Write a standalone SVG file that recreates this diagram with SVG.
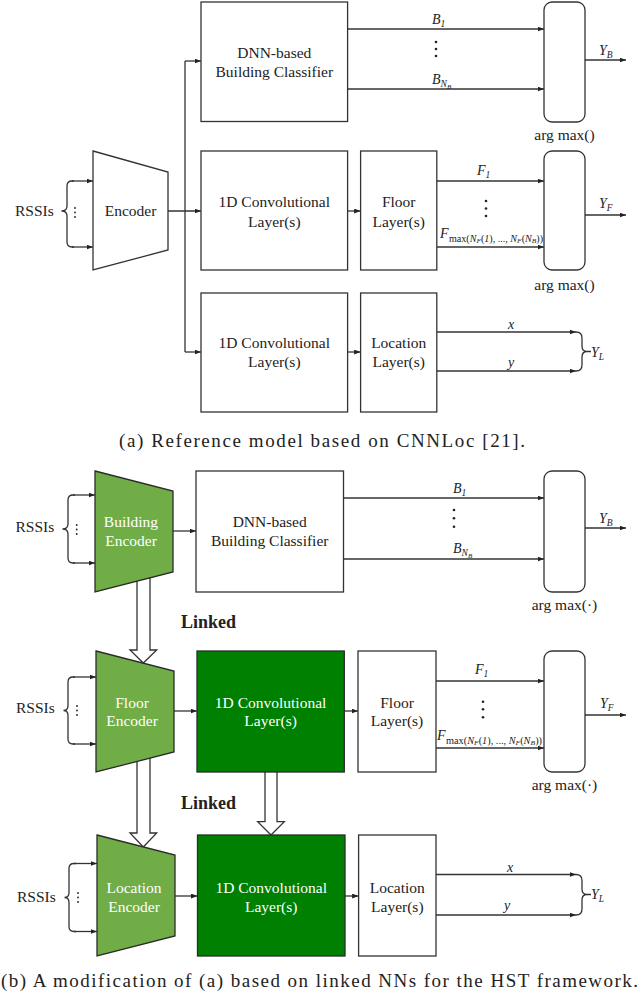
<svg xmlns="http://www.w3.org/2000/svg" width="640" height="995" viewBox="0 0 640 995">
<defs>
<style>
.box{fill:#fff;stroke:#333;stroke-width:1.3}
.lg{fill:#70AD47;stroke:#2b2b2b;stroke-width:1.3}
.dg{fill:#008000;stroke:#2b2b2b;stroke-width:1.3}
.ln{stroke:#333;stroke-width:1.3;fill:none}
.ar{stroke:#333;stroke-width:1.3;fill:none;marker-end:url(#ah)}
.hol{fill:#fff;stroke:#333;stroke-width:1.3}
.t{font-family:"Liberation Serif","Times New Roman",serif;font-size:15.5px;fill:#222;text-anchor:middle}
.w{fill:#fff}
.s{font-family:"Liberation Serif","Times New Roman",serif;font-size:15.5px;fill:#222}
.m{font-family:"Liberation Serif","Times New Roman",serif;font-style:italic;font-size:14px;fill:#222}
.sub{font-size:9.5px}
.ss{font-size:7px}
.up{font-style:normal}
.dot{fill:#222}
.bold{font-family:"Liberation Serif","Times New Roman",serif;font-weight:bold;font-size:18px;fill:#222}
.cap{font-family:"Liberation Serif","Times New Roman",serif;font-size:19px;fill:#222}
</style>
<marker id="ah" viewBox="0 0 8 6" refX="8" refY="3" markerWidth="6.5" markerHeight="5" orient="auto" markerUnits="userSpaceOnUse">
<path d="M0,0 L8,3 L0,6 z" fill="#222"/>
</marker>
</defs>

<g id="connectors">
<!-- (a) -->
<path class="ln" d="M74,181 L72,181 Q67,181 67,186 L67,206 Q67,211 61.5,211 Q67,211 67,216 L67,242 Q67,247 72,247 L74,247"/>
<path class="ar" d="M72,181 L93,181"/>
<path class="ar" d="M72,247 L93,247"/>
<path class="ar" d="M168,211 L201,211"/>
<path class="ln" d="M185,61 L185,352"/>
<path class="ar" d="M185,61 L201,61"/>
<path class="ar" d="M185,352 L201,352"/>
<path class="ar" d="M347.6,211 L360.6,211"/>
<path class="ar" d="M347.6,352 L360.6,352"/>
<path class="ar" d="M347.6,29 L544,29"/>
<path class="ar" d="M347.6,89 L544,89"/>
<path class="ar" d="M585,60 L626,60"/>
<path class="ar" d="M436.8,181 L544,181"/>
<path class="ar" d="M436.8,247 L544,247"/>
<path class="ar" d="M585,215 L626,215"/>
<path class="ar" d="M436.8,332 L576,332"/>
<path class="ar" d="M436.8,371 L576,371"/>
<path class="ln" d="M576,332 Q582,332 582,338 L582,346 Q582,351.5 587,351.5 L591,351.5 M587,351.5 Q582,351.5 582,357 L582,365 Q582,371 576,371"/>
<!-- (b) -->
<path class="ln" d="M75,495 L73,495 Q68,495 68,500 L68,524 Q68,529 62.5,529 Q68,529 68,534 L68,558 Q68,563 73,563 L75,563"/>
<path class="ar" d="M73,495 L95,495"/>
<path class="ar" d="M73,563 L95,563"/>
<path class="ln" d="M75,677 L73,677 Q68,677 68,682 L68,705.5 Q68,710.5 63.5,710.5 Q68,710.5 68,715.5 L68,739 Q68,744 73,744 L75,744"/>
<path class="ar" d="M73,677 L96,677"/>
<path class="ar" d="M73,744 L96,744"/>
<path class="ln" d="M76,863.5 L74,863.5 Q69,863.5 69,868.5 L69,892.5 Q69,897.5 64.5,897.5 Q69,897.5 69,902.5 L69,926.5 Q69,931.5 74,931.5 L76,931.5"/>
<path class="ar" d="M74,863.5 L97,863.5"/>
<path class="ar" d="M74,931.5 L97,931.5"/>
<path class="ar" d="M173,531 L196,531"/>
<path class="ar" d="M174,711 L197,711"/>
<path class="ar" d="M344.3,711 L358,711"/>
<path class="ar" d="M174,896 L197.5,896"/>
<path class="ar" d="M345,896 L358.6,896"/>
<path class="ar" d="M343.5,498 L544,498"/>
<path class="ar" d="M343.5,559 L544,559"/>
<path class="ar" d="M585,528 L626,528"/>
<path class="ar" d="M436,681 L544,681"/>
<path class="ar" d="M436,748 L544,748"/>
<path class="ar" d="M585,715 L626,715"/>
<path class="ar" d="M436,874.5 L576,874.5"/>
<path class="ar" d="M436,915 L576,915"/>
<path class="ln" d="M576,874.5 Q582,874.5 582,880.5 L582,889 Q582,894.5 587,894.5 L591,894.5 M587,894.5 Q582,894.5 582,900 L582,909 Q582,915 576,915"/>
<!-- hollow "linked" arrows -->
<polygon class="hol" points="137,575 137,650 130,650 143.3,663 156.7,650 150,650 150,575"/>
<polygon class="hol" points="137,755 137,833 130,833 143.3,847 156.7,833 150,833 150,755"/>
<polygon class="hol" points="265,771 265,821.7 257.7,821.7 271,835 284.3,821.7 277,821.7 277,771"/>
</g>

<!-- ===== (a) nodes ===== -->
<g id="a-rssi">
<text class="s" x="15" y="216">RSSIs</text>
<circle class="dot" cx="75" cy="208" r="0.9"/><circle class="dot" cx="75" cy="212.5" r="0.9"/><circle class="dot" cx="75" cy="217" r="0.9"/>
</g>
<g id="a-encoder">
<polygon class="box" points="93,151 168,172 168,250 93,270"/>
<text class="t" x="130.5" y="216">Encoder</text>
</g>
<g id="a-dnn">
<rect class="box" x="201" y="2" width="146.6" height="119.5"/>
<text class="t" x="274.3" y="58">DNN-based</text>
<text class="t" x="274.3" y="77">Building Classifier</text>
</g>
<g id="a-argmax-b">
<rect class="box" x="544" y="2" width="41" height="120" rx="8"/>
<text class="t" x="564.5" y="140">arg max()</text>
</g>
<g id="a-conv1">
<rect class="box" x="201" y="151" width="146.6" height="119"/>
<text class="t" x="274.3" y="207">1D Convolutional</text>
<text class="t" x="274.3" y="227">Layer(s)</text>
</g>
<g id="a-floor">
<rect class="box" x="360.6" y="151" width="76.2" height="119"/>
<text class="t" x="398.7" y="207">Floor</text>
<text class="t" x="398.7" y="227">Layer(s)</text>
</g>
<g id="a-argmax-f">
<rect class="box" x="544" y="151" width="41" height="119" rx="8"/>
<text class="t" x="564.5" y="290">arg max()</text>
</g>
<g id="a-conv2">
<rect class="box" x="201" y="293" width="146.6" height="119"/>
<text class="t" x="274.3" y="348">1D Convolutional</text>
<text class="t" x="274.3" y="367">Layer(s)</text>
</g>
<g id="a-loc">
<rect class="box" x="360.6" y="293" width="76.2" height="119"/>
<text class="t" x="398.7" y="348">Location</text>
<text class="t" x="398.7" y="367">Layer(s)</text>
</g>
<g id="a-labels">
<text class="m" x="432" y="24">B<tspan class="sub" dy="3">1</tspan></text>
<circle class="dot" cx="436" cy="42" r="1.3"/><circle class="dot" cx="436" cy="49" r="1.3"/><circle class="dot" cx="436" cy="56" r="1.3"/>
<text class="m" x="432" y="84">B<tspan class="sub" dy="3">N</tspan><tspan class="ss" dy="2">B</tspan></text>
<text class="m" x="599" y="55">Y<tspan class="sub" dy="3">B</tspan></text>
<text class="m" x="477" y="175">F<tspan class="sub" dy="3">1</tspan></text>
<circle class="dot" cx="486" cy="201" r="1.3"/><circle class="dot" cx="486" cy="208.5" r="1.3"/><circle class="dot" cx="486" cy="216" r="1.3"/>
<text class="m" x="440" y="238">F</text>
<text class="m sub" x="449" y="241.5" textLength="94" lengthAdjust="spacingAndGlyphs"><tspan class="up">max(</tspan>N<tspan class="ss" dy="1.5">F</tspan><tspan class="up" dy="-1.5">(</tspan>1<tspan class="up">), ..., </tspan>N<tspan class="ss" dy="1.5">F</tspan><tspan class="up" dy="-1.5">(</tspan>N<tspan class="ss" dy="1.5">B</tspan><tspan class="up" dy="-1.5">))</tspan></text>
<text class="m" x="599" y="208">Y<tspan class="sub" dy="3">F</tspan></text>
<text class="m" x="508" y="329">x</text>
<text class="m" x="508" y="367">y</text>
<text class="m" x="591" y="357">Y<tspan class="sub" dy="3">L</tspan></text>
</g>
<g id="caption-a">
<text class="cap" x="119" y="446.5" textLength="406" lengthAdjust="spacing">(a) Reference model based on CNNLoc [21].</text>
</g>

<!-- ===== (b) nodes ===== -->
<g id="b-rssi1">
<text class="s" x="15.5" y="532">RSSIs</text>
<circle class="dot" cx="76.7" cy="525" r="0.9"/><circle class="dot" cx="76.7" cy="529.5" r="0.9"/><circle class="dot" cx="76.7" cy="534" r="0.9"/>
</g>
<g id="b-building-encoder">
<polygon class="lg" points="95,471 173,491 173,572 95,592"/>
<text class="t w" x="131" y="527">Building</text>
<text class="t w" x="131" y="545.5">Encoder</text>
</g>
<g id="b-dnn">
<rect class="box" x="196" y="471" width="147.5" height="121"/>
<text class="t" x="269.7" y="527">DNN-based</text>
<text class="t" x="269.7" y="545.5">Building Classifier</text>
</g>
<g id="b-argmax-b">
<rect class="box" x="544" y="471" width="41" height="121" rx="8"/>
<text class="t" x="564.5" y="610">arg max(·)</text>
</g>
<g id="b-linked1">
<text class="bold" x="181" y="628">Linked</text>
</g>
<g id="b-rssi2">
<text class="s" x="16" y="713">RSSIs</text>
<circle class="dot" cx="77" cy="706" r="0.9"/><circle class="dot" cx="77" cy="710.5" r="0.9"/><circle class="dot" cx="77" cy="715" r="0.9"/>
</g>
<g id="b-floor-encoder">
<polygon class="lg" points="96,651 174,671 174,752 96,772"/>
<text class="t w" x="132" y="707.5">Floor</text>
<text class="t w" x="132" y="726">Encoder</text>
</g>
<g id="b-conv1">
<rect class="dg" x="197" y="651" width="147.3" height="121"/>
<text class="t w" x="270.6" y="707.5">1D Convolutional</text>
<text class="t w" x="270.6" y="726">Layer(s)</text>
</g>
<g id="b-floor">
<rect class="box" x="358" y="651" width="78" height="121"/>
<text class="t" x="397" y="707.5">Floor</text>
<text class="t" x="397" y="726">Layer(s)</text>
</g>
<g id="b-argmax-f">
<rect class="box" x="544" y="651" width="41" height="121" rx="8"/>
<text class="t" x="564.5" y="790">arg max(·)</text>
</g>
<g id="b-linked2">
<text class="bold" x="181" y="809">Linked</text>
</g>
<g id="b-rssi3">
<text class="s" x="17" y="902">RSSIs</text>
<circle class="dot" cx="78" cy="893" r="0.9"/><circle class="dot" cx="78" cy="897.5" r="0.9"/><circle class="dot" cx="78" cy="902" r="0.9"/>
</g>
<g id="b-location-encoder">
<polygon class="lg" points="97,835 175,855 175,936 97,956"/>
<text class="t w" x="134" y="893">Location</text>
<text class="t w" x="134" y="911.5">Encoder</text>
</g>
<g id="b-conv2">
<rect class="dg" x="197.5" y="835" width="147.5" height="121"/>
<text class="t w" x="271.2" y="893">1D Convolutional</text>
<text class="t w" x="271.2" y="912">Layer(s)</text>
</g>
<g id="b-loc">
<rect class="box" x="358.6" y="835" width="77.4" height="121"/>
<text class="t" x="397.3" y="893">Location</text>
<text class="t" x="397.3" y="912">Layer(s)</text>
</g>
<g id="b-labels">
<text class="m" x="453" y="493">B<tspan class="sub" dy="3">1</tspan></text>
<circle class="dot" cx="454" cy="510" r="1.3"/><circle class="dot" cx="454" cy="518.3" r="1.3"/><circle class="dot" cx="454" cy="526.7" r="1.3"/>
<text class="m" x="453" y="553">B<tspan class="sub" dy="3">N</tspan><tspan class="ss" dy="2">B</tspan></text>
<text class="m" x="599" y="523">Y<tspan class="sub" dy="3">B</tspan></text>
<text class="m" x="475" y="674">F<tspan class="sub" dy="3">1</tspan></text>
<circle class="dot" cx="483" cy="701.7" r="1.3"/><circle class="dot" cx="483" cy="709.3" r="1.3"/><circle class="dot" cx="483" cy="717.3" r="1.3"/>
<text class="m" x="437" y="740">F</text>
<text class="m sub" x="446" y="743.5" textLength="96" lengthAdjust="spacingAndGlyphs"><tspan class="up">max(</tspan>N<tspan class="ss" dy="1.5">F</tspan><tspan class="up" dy="-1.5">(</tspan>1<tspan class="up">), ..., </tspan>N<tspan class="ss" dy="1.5">F</tspan><tspan class="up" dy="-1.5">(</tspan>N<tspan class="ss" dy="1.5">B</tspan><tspan class="up" dy="-1.5">))</tspan></text>
<text class="m" x="600" y="708">Y<tspan class="sub" dy="3">F</tspan></text>
<text class="m" x="507" y="872">x</text>
<text class="m" x="504" y="910">y</text>
<text class="m" x="591" y="899">Y<tspan class="sub" dy="3">L</tspan></text>
</g>
<g id="caption-b">
<text class="cap" x="1" y="987" textLength="637" lengthAdjust="spacing">(b) A modification of (a) based on linked NNs for the HST framework.</text>
</g>
</svg>
